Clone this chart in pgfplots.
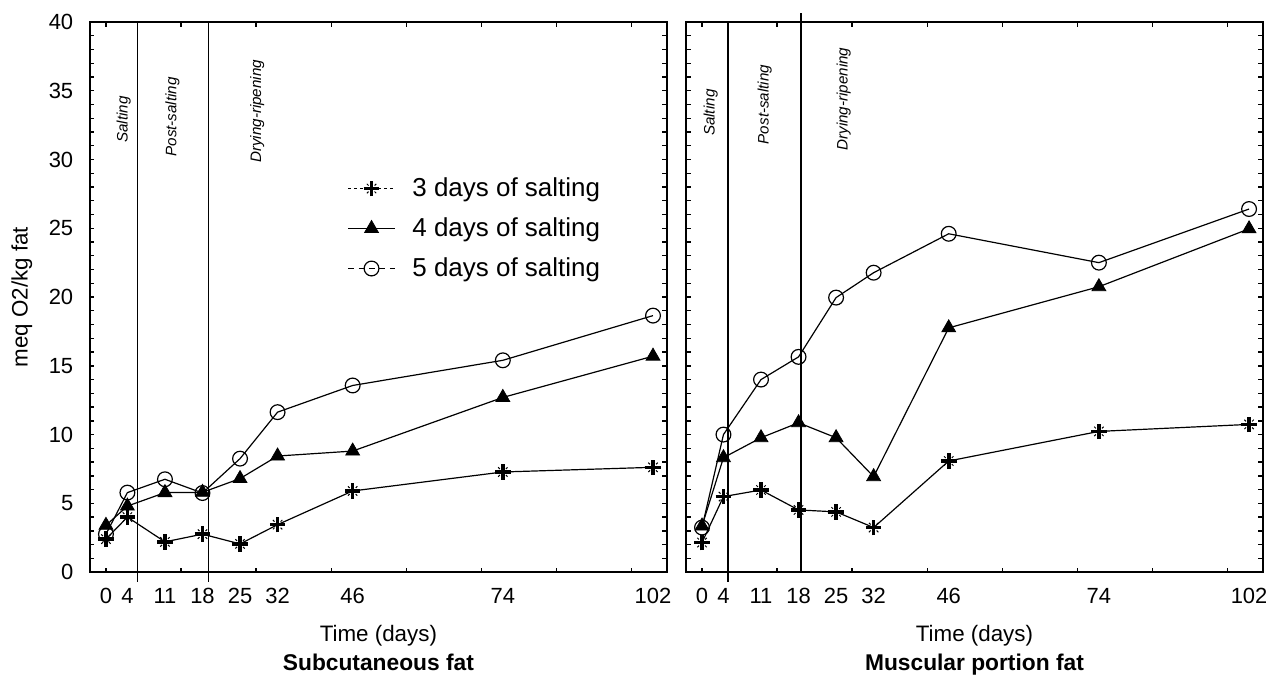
\documentclass[border=0pt]{standalone}
\usepackage{fontspec}
\setmainfont{Liberation Sans}
\usepackage{pgfplots}
\pgfplotsset{compat=1.18}
\pgfplotstableread{
day s3 s4 s5
0 2.40 3.40 2.76
4 4.00 4.80 5.78
11 2.20 5.78 6.75
18 2.76 5.80 5.75
25 2.05 6.80 8.25
32 3.45 8.44 11.63
46 5.90 8.80 13.57
74 7.28 12.70 15.40
102 7.62 15.70 18.65
}\subc
\pgfplotstableread{
day s3 s4 s5
0 2.15 3.35 3.24
4 5.49 8.32 10.00
11 5.97 9.77 14.00
18 4.52 10.86 15.65
25 4.38 9.77 19.96
32 3.24 6.94 21.77
46 8.08 17.76 24.60
74 10.23 20.75 22.50
102 10.74 24.96 26.40
}\musc
\pgfdeclareplotmark{plusdot}{%
  \pgfsetlinewidth{1.8pt}%
  \pgfpathmoveto{\pgfqpoint{-\pgfplotmarksize}{0pt}}%
  \pgfpathlineto{\pgfqpoint{\pgfplotmarksize}{0pt}}%
  \pgfpathmoveto{\pgfqpoint{0pt}{-\pgfplotmarksize}}%
  \pgfpathlineto{\pgfqpoint{0pt}{\pgfplotmarksize}}%
  \pgfusepathqstroke
  \pgfsetlinewidth{0.5pt}%
  \pgfpathmoveto{\pgfpointpolar{45}{0.55\pgfplotmarksize}}\pgfpathlineto{\pgfpointpolar{45}{0.85\pgfplotmarksize}}%
  \pgfpathmoveto{\pgfpointpolar{135}{0.55\pgfplotmarksize}}\pgfpathlineto{\pgfpointpolar{135}{0.85\pgfplotmarksize}}%
  \pgfpathmoveto{\pgfpointpolar{225}{0.55\pgfplotmarksize}}\pgfpathlineto{\pgfpointpolar{225}{0.85\pgfplotmarksize}}%
  \pgfpathmoveto{\pgfpointpolar{315}{0.55\pgfplotmarksize}}\pgfpathlineto{\pgfpointpolar{315}{0.85\pgfplotmarksize}}%
  \pgfusepathqstroke
}
\tikzset{
  phase/.style={rotate=90, font=\itshape\fontsize{7.6}{9}\selectfont},
}
\begin{document}
\begin{tikzpicture}
\pgfplotsset{
  every axis/.append style={
    scale only axis, width=289pt, height=275.5pt,
    xmin=-3, xmax=104.6, ymin=0, ymax=40,
    xtick={0,4,11,18,25,32,46,74,102},
    minor xtick={0,14,...,98},
    ytick={0,5,...,40}, minor ytick={0,1,...,40},
    tick align=inside, major tick length=0pt, minor tick length=2.3pt,
    axis line style={line width=0.8pt},
    every tick/.style={black, line width=0.7pt},
    /pgf/number format/assume math mode=true,
    tick label style={font=\fontsize{11}{13}\selectfont},
    yticklabel style={xshift=-4.8pt},
    xticklabel style={yshift=-4.6pt},
    clip=false,
  },
  s3/.style={black, line width=0.6pt, mark=plusdot, mark size=3.9pt, mark options={solid}},
  s4/.style={black, line width=0.6pt, mark=triangle*, mark size=4pt, mark options={fill=black, line width=0.4pt, solid}},
  s5/.style={black, line width=0.6pt, mark=o, mark size=3.7pt, mark options={fill=white, line width=0.6pt, solid}},
  vline/.style={black, line width=0.75pt, no marks},
}
\begin{axis}[name=L,
  legend style={draw=none, fill=none, at={(rel axis cs:0.446,0.725)}, anchor=north west,
    font=\fontsize{13}{15}\selectfont, row sep=5.1pt, inner sep=0pt,
    /tikz/every odd column/.append style={column sep=6.5pt}},
  legend cell align=left,
  legend image code/.code={
    \draw[#1, mark=none] (0cm,0cm) -- (0.82cm,0cm);
    \draw[#1, only marks] plot coordinates {(0.41cm,0cm)};
  },
]
\addplot[vline, forget plot] coordinates {(5.9,-0.7) (5.9,40)};
\addplot[vline, forget plot] coordinates {(19.1,-0.7) (19.1,40)};
\addplot[s3, forget plot] table[x=day, y=s3] {\subc};
\addplot[s4, forget plot] table[x=day, y=s4] {\subc};
\addplot[s5, forget plot] table[x=day, y=s5] {\subc};
\addlegendimage{s3, dash pattern=on 1.2pt off 1.8pt}
\addlegendentry{3 days of salting}
\addlegendimage{s4}
\addlegendentry{4 days of salting}
\addlegendimage{s5, dash pattern=on 3pt off 2.2pt}
\addlegendentry{5 days of salting}
\node[phase] at (axis cs:3.3,32.9) {Salting};
\node[phase] at (axis cs:12.4,33.1) {Post-salting};
\node[phase] at (axis cs:28.2,33.5) {Drying-ripening};
\node[anchor=base, font=\fontsize{11.2}{13}\selectfont, yshift=-35pt] at (rel axis cs:0.5,0) {Time (days)};
\node[anchor=base, font=\fontsize{11.4}{13}\selectfont\bfseries, yshift=-49.5pt] at (rel axis cs:0.5,0) {Subcutaneous fat};
\node[rotate=90, anchor=center, font=\fontsize{11.2}{13}\selectfont, yshift=34pt] at (rel axis cs:0,0.5) {meq O2/kg fat};
\end{axis}
\begin{axis}[name=R, at={(298.5pt,0pt)}, yticklabels={}]
\addplot[vline] coordinates {(4.8,-0.7) (4.8,40)};
\addplot[vline] coordinates {(18.5,0) (18.5,40.65)};
\addplot[s3] table[x=day, y=s3] {\musc};
\addplot[s4] table[x=day, y=s4] {\musc};
\addplot[s5] table[x=day, y=s5] {\musc};
\node[phase] at (axis cs:1.6,33.4) {Salting};
\node[phase] at (axis cs:11.7,34.0) {Post-salting};
\node[phase] at (axis cs:26.4,34.4) {Drying-ripening};
\node[anchor=base, font=\fontsize{11.2}{13}\selectfont, yshift=-35pt] at (rel axis cs:0.5,0) {Time (days)};
\node[anchor=base, font=\fontsize{11.4}{13}\selectfont\bfseries, yshift=-49.5pt] at (rel axis cs:0.5,0) {Muscular portion fat};
\end{axis}
\pgfresetboundingbox
\path (-45pt,-52pt) rectangle (589pt,286.5pt);
\end{tikzpicture}
\end{document}
